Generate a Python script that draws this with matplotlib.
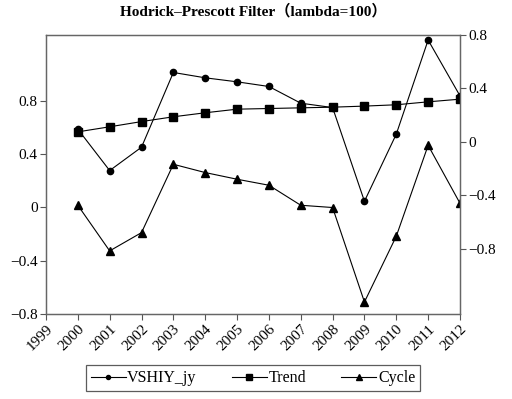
import matplotlib.pyplot as plt
import numpy as np

plt.rcParams['font.family'] = ['Liberation Serif', 'DejaVu Serif']

years = list(range(2000, 2013))
# VSHIY_jy and Trend read on the right axis, Cycle on the left axis
vshiy = [0.095, -0.215, -0.04, 0.52, 0.48, 0.45, 0.415, 0.29, 0.257, -0.445, 0.058, 0.763, 0.345]
trend = [0.075, 0.113, 0.152, 0.188, 0.218, 0.245, 0.25, 0.255, 0.26, 0.268, 0.278, 0.30, 0.32]
cycle = [0.015, -0.327, -0.19, 0.322, 0.26, 0.21, 0.165, 0.015, -0.002, -0.71, -0.217, 0.464, 0.03]

left_ticks = [-0.8, -0.4, 0, 0.4, 0.8]
right_ticks = [-0.8, -0.4, 0, 0.4, 0.8]
xticks = list(range(1999, 2013))

def fmt(v):
    if v == 0:
        return "0"
    return ("%.1f" % v).replace("-", "\u2212")

fig = plt.figure(figsize=(5.12, 3.99), dpi=100)
ax = fig.add_axes([0.0898, 0.213, 0.8086, 0.699])
ax2 = ax.twinx()

l3, = ax.plot(years, cycle, color='black', lw=0.8, marker='^', ms=6, label='Cycle')
l1, = ax2.plot(years, vshiy, color='black', lw=0.8, marker='o', ms=4.5, label='VSHIY_jy')
l2, = ax2.plot(years, trend, color='black', lw=0.8, marker='s', ms=6, label='Trend')

ax.set_xlim(1999, 2012)
ax.set_ylim(-0.8, 1.29)
ax2.set_ylim(-1.29, 0.80)

ax.set_yticks(left_ticks)
ax.set_yticklabels([fmt(v) for v in left_ticks])
ax2.set_yticks(right_ticks)
ax2.set_yticklabels([fmt(v) for v in right_ticks])
ax.set_xticks(xticks)
ax.set_xticklabels([str(y) for y in xticks], rotation=45, ha='right', rotation_mode='anchor')

for a in (ax, ax2):
    a.tick_params(labelsize=11, length=4, width=0.8, color='#555555', pad=2)
    for s in a.spines.values():
        s.set_color('#666666')
        s.set_linewidth(0.9)

ax.set_title('Hodrick\u2013Prescott Filter\uff08lambda=100\uff09', fontsize=11, fontweight='bold', pad=14,
             family=['Liberation Serif', 'Noto Sans CJK SC'])

leg = fig.legend([l1, l2, l3], ['VSHIY_jy', 'Trend', 'Cycle'], loc='lower center',
                 bbox_to_anchor=(0.494, 0.0), ncol=3, frameon=True, fancybox=False,
                 edgecolor='#333333', fontsize=11.5, handlelength=2.2, columnspacing=2.2,
                 borderpad=0.3, handletextpad=0.1, markerscale=0.65)
leg.get_frame().set_linewidth(0.9)

fig.savefig('out.png', dpi=100)
